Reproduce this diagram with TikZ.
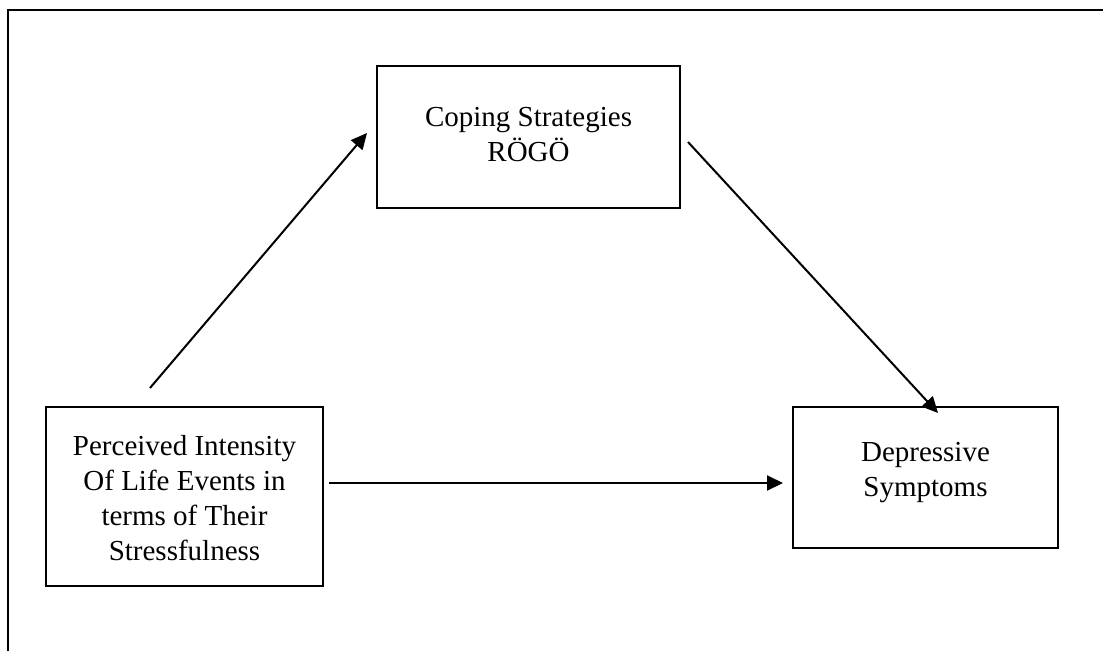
\documentclass[tikz,border=0pt]{standalone}
\usepackage{fontspec}
\setmainfont{Liberation Serif}
\usetikzlibrary{arrows.meta}
\begin{document}
\begin{tikzpicture}[x=1pt,y=-1pt,
  box/.style={draw,line width=2.2pt,inner sep=0pt},
  boxtext/.style={anchor=north,inner sep=0pt,align=center,font=\fontsize{29}{35}\selectfont},
  link/.style={line width=2pt,-{Triangle[length=16pt,width=15pt]}}]
\useasboundingbox (0,0) rectangle (1103,651);
% partial outer frame
\draw[line width=2.4pt] (8,651) -- (8,10) -- (1103,10);
% boxes
\node[box,minimum width=303pt,minimum height=142pt] (coping) at (528.5,137) {};
\node[box,minimum width=277pt,minimum height=179pt] (stress) at (184.5,496.5) {};
\node[box,minimum width=265pt,minimum height=141pt] (depr) at (925.5,477.5) {};
% texts
\node[boxtext] (copingtxt) at (528.5,107.5) {Coping Strategies\\RÖGÖ};
\node[boxtext] (stresstxt) at (184.5,435.5) {Perceived Intensity\\Of Life Events in\\terms of Their\\Stressfulness};
\node[boxtext] (deprtxt) at (925.5,442) {Depressive\\Symptoms};
% connector ends
\coordinate (a1) at (150,388);
\coordinate (a2) at (367,133);
\coordinate (b1) at (688,142);
\coordinate (b2) at (938,413);
\coordinate (c1) at (329,483);
\coordinate (c2) at (783,483);
\draw[link] (a1) -- (a2);
\draw[link] (b1) -- (b2);
\draw[link] (c1) -- (c2);
\end{tikzpicture}
\end{document}
